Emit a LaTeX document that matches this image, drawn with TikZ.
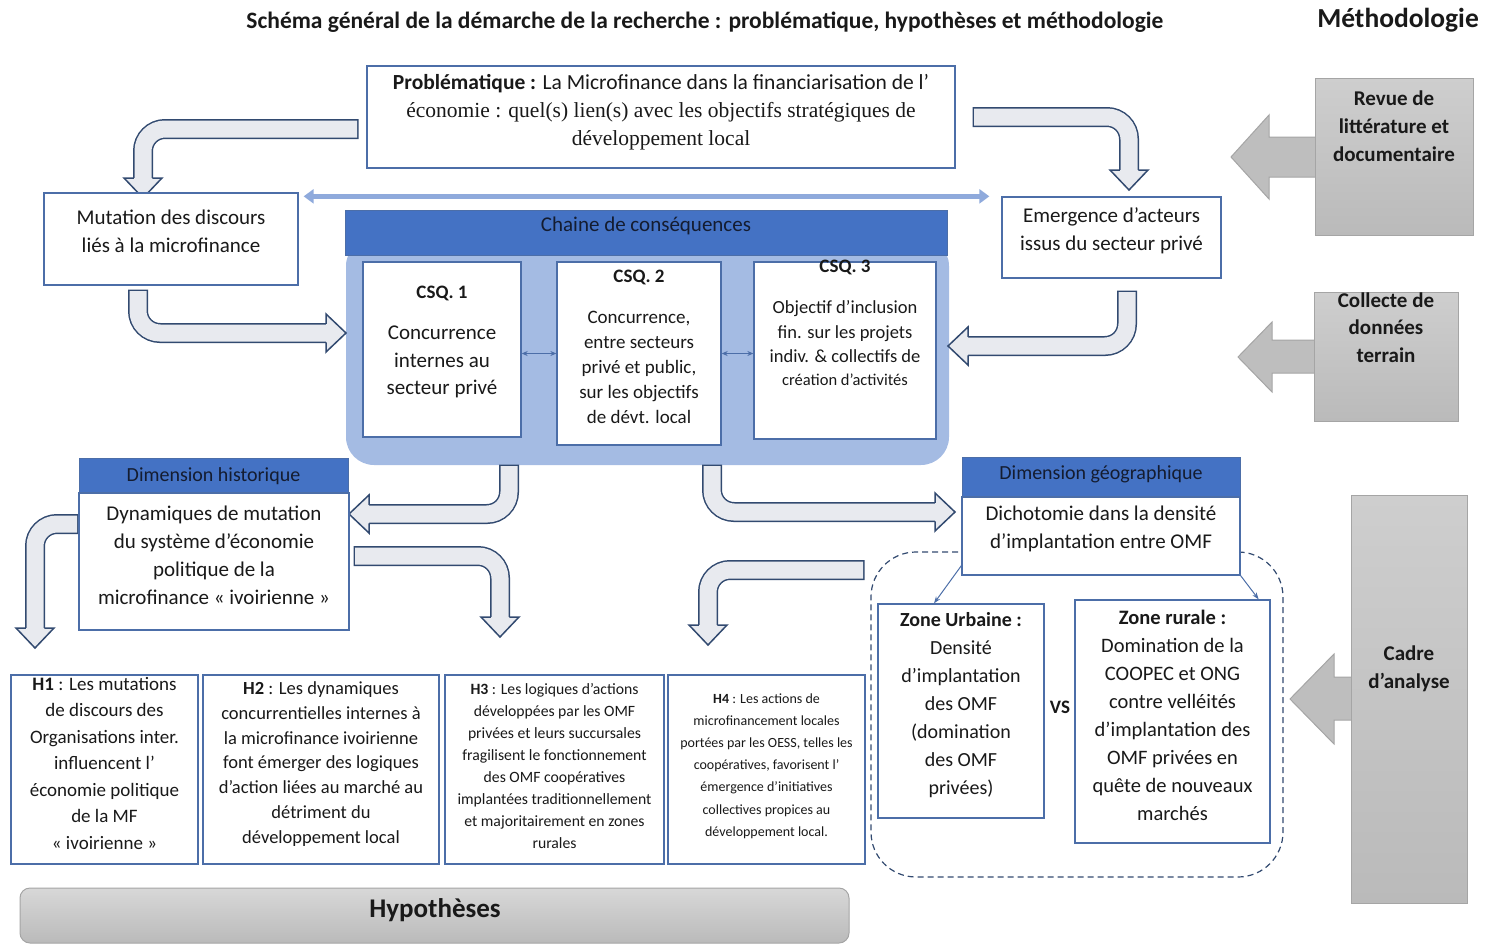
\documentclass[tikz,border=0pt]{standalone}
\usepackage{fontspec}
\setmainfont{Carlito}
\newfontfamily\timesfont{Liberation Serif}
\usetikzlibrary{arrows.meta,calc}

\definecolor{headblue}{RGB}{68,114,196}
\definecolor{bordblue}{RGB}{76,110,168}
\definecolor{chainfill}{RGB}{164,187,227}
\definecolor{arrowfill}{RGB}{232,234,239}
\definecolor{arrowline}{RGB}{50,74,112}
\definecolor{dblblue}{RGB}{143,170,220}
\definecolor{grayfill}{RGB}{190,190,190}
\definecolor{grayline}{RGB}{165,165,165}
\definecolor{graytop}{RGB}{206,206,206}
\definecolor{graybot}{RGB}{186,186,186}
\definecolor{textcol}{RGB}{25,25,25}
\definecolor{headtext}{RGB}{20,28,48}

\newcommand{\fs}[2]{\fontsize{#1}{#2}\selectfont}
\newcommand{\arrowhead}[2]{\filldraw[blockarrow,shift={(#1)},rotate=#2] (0,-9.25) -- (0,-19) -- (20,0) -- (0,19) -- (0,9.25);}
\newcommand{\bentarrow}[5]{%
  \draw[line width=20pt, draw=arrowline, rounded corners=22pt] (#1) -- (#3) -- (#4);
  \draw[line width=17pt, draw=arrowfill, rounded corners=22pt] (#2) -- (#3) -- (#4);
  \arrowhead{#4}{#5}}

\tikzset{
  txt/.style={align=center, inner sep=0pt, text=textcol, font=\fs{21}{28}},
  box/.style={draw=bordblue, line width=1.3pt, fill=white, inner sep=0pt},
  headbox/.style={draw=bordblue, line width=1pt, fill=headblue, inner sep=0pt},
  chainbox/.style={fill=chainfill, rounded corners=28pt, inner sep=0pt},
  zonebox/.style={draw=arrowline, line width=1.2pt, dash pattern=on 6pt off 4pt, rounded corners=45pt, inner sep=0pt},
  graybox/.style={draw=grayline, line width=1pt, top color=graytop, bottom color=graybot, inner sep=0pt},
  grayarrow/.style={draw=grayline, line width=1pt, fill=grayfill},
  hypbar/.style={draw=grayline, line width=1pt, top color=graytop!80!white, bottom color=graybot, rounded corners=10pt, inner sep=0pt},
  blockarrow/.style={draw=arrowline, fill=arrowfill, line width=1.5pt, line join=miter},
  thinarr/.style={draw=bordblue, line width=1pt, -{Stealth[length=7pt,width=5pt]}},
  smallarr/.style={draw=bordblue, line width=1.1pt, {Stealth[length=6pt,width=5pt]}-{Stealth[length=6pt,width=5pt]}},
  dblarr/.style={draw=dblblue, line width=5pt, {Triangle[width=14pt,length=10pt]}-{Triangle[width=14pt,length=10pt]}}
}

\begin{document}
\begin{tikzpicture}[x=1pt,y=-1pt]
\useasboundingbox (0,0) rectangle (1486,945);

%%%%% titres
\node[txt, font=\fs{23.5}{28}\bfseries] (titre) at (705,22) {Schéma général de la démarche de la recherche : problématique, hypothèses et méthodologie};
\node[txt, font=\fs{27.5}{32}\bfseries] (metho) at (1398,20) {Méthodologie};

%%%%% chaine de consequences
\node[chainbox, minimum width=603pt, minimum height=227pt] (chain) at (647.5,351.5) {};
\node[headbox, minimum width=602pt, minimum height=45pt] (chainhd) at (646,232.5) {};
\node[txt, text=headtext] (chainhd-t) at (646,226) {Chaine de conséquences};

\node[box, minimum width=158pt, minimum height=175pt] (csq1) at (442,349.5) {};
\node[box, minimum width=164pt, minimum height=183pt] (csq2) at (639,353.5) {};
\node[box, minimum width=182pt, minimum height=177pt] (csq3) at (845,350.5) {};
\node[txt, font=\fs{21}{27.5}] (csq1-t) at (442,342) {{\fs{19}{27.5}\bfseries CSQ. 1}\\[14pt]Concurrence\\internes au\\secteur privé};
\node[txt, font=\fs{19}{25}] (csq2-t) at (639,347) {{\bfseries CSQ. 2}\\[16pt]Concurrence,\\entre secteurs\\privé et public,\\sur les objectifs\\de dévt. local};
\node[txt, font=\fs{18.5}{24.5}] (csq3-t) at (845,323) {{\fs{19}{24.5}\bfseries CSQ. 3}\\[16.5pt]Objectif d’inclusion\\fin. sur les projets\\indiv. \& collectifs de\\[-1.5pt]{\fs{16.5}{23}création d’activités}};
\draw[smallarr] (csq2.west -| csq1.east) -- (csq2.west);
\draw[smallarr] (csq2.east) -- (csq2.east -| csq3.west);

%%%%% fleches courbes
\bentarrow{358.5,129}{357,129}{143,129}{143,178}{-90}
\bentarrow{138,289.5}{138,291}{138,333}{326,333}{0}
\bentarrow{972.5,117}{974,117}{1129,117}{1129,170}{-90}
\bentarrow{1127,290.5}{1127,292}{1127,346}{968,346}{180}
\bentarrow{509,464.5}{509,466}{509,514}{369,514}{180}
\bentarrow{78.5,524}{77,524}{35,524}{35,628}{-90}
\bentarrow{353.5,556}{355,556}{500,556}{500,617}{-90}
\bentarrow{712,464.5}{712,466}{712,512}{935,512}{0}
\bentarrow{864.5,570}{863,570}{708,570}{708,625}{-90}

%%%%% problematique et discours
\node[box, minimum width=588pt, minimum height=102pt] (prob) at (661,117) {};
\node[txt, font=\fs{21.5}{28}] (prob-t) at (661,112) {\textbf{Problématique :} La Microfinance dans la financiarisation de l’\\{\timesfont\fs{21.5}{28}économie : quel(s) lien(s) avec les objectifs stratégiques de}\\{\timesfont\fs{21.5}{28}développement local}};

\node[box, minimum width=254pt, minimum height=92pt] (mut) at (171,239) {};
\node[txt] (mut-t) at (171,231) {Mutation des discours\\liés à la microfinance};
\node[box, minimum width=219pt, minimum height=81pt] (emer) at (1111.5,237.5) {};
\node[txt] (emer-t) at (1111.5,231) {Emergence d’acteurs\\issus du secteur privé};
\draw[dblarr] ([xshift=5pt,yshift=-4pt]mut.north east) -- ([xshift=-12pt]emer.north west);

%%%%% dimension historique
\node[headbox, minimum width=269pt, minimum height=35pt] (histhd) at (213.5,475.5) {};
\node[txt, font=\fs{20}{26}, text=headtext] (histhd-t) at (213.5,476) {Dimension historique};
\node[box, minimum width=270pt, minimum height=137pt] (hist) at (214,561.5) {};
\node[txt] (hist-t) at (214,555) {Dynamiques de mutation\\du système d’économie\\politique de la\\microfinance «~ivoirienne~»};

%%%%% dimension geographique
\node[zonebox, minimum width=412pt, minimum height=325pt] (zones) at (1077,714.5) {};
\node[headbox, minimum width=278pt, minimum height=40pt] (geohd) at (1101,477) {};
\node[txt, font=\fs{20}{26}, text=headtext] (geohd-t) at (1101,474) {Dimension géographique};
\node[box, minimum width=278pt, minimum height=78pt] (geo) at (1101,536) {};
\node[txt] (geo-t) at (1101,529) {Dichotomie dans la densité\\d’implantation entre OMF};

\node[box, minimum width=166pt, minimum height=214pt] (urb) at (961,711) {};
\node[txt, font=\fs{20}{28}] (urb-t) at (961,705) {\textbf{Zone Urbaine :}\\Densité\\d’implantation\\des OMF\\(domination\\des OMF\\privées)};
\node[txt, font=\fs{19}{24}\bfseries] (vs) at (1060,707) {VS};
\node[box, minimum width=195pt, minimum height=243pt] (rur) at (1172.5,721.5) {};
\node[txt, font=\fs{20.5}{28}] (rur-t) at (1172.5,715) {\textbf{Zone rurale :}\\Domination de la\\COOPEC et ONG\\contre velléités\\d’implantation des\\OMF privées en\\quête de nouveaux\\marchés};
\draw[thinarr] ([yshift=10pt]geo.south west) -- ([xshift=-27pt]urb.north);
\draw[thinarr] (geo.south east) -- ([xshift=-12pt]rur.north east);

%%%%% hypotheses
\node[box, minimum width=187pt, minimum height=189pt] (h1) at (104.5,769.5) {};
\node[box, minimum width=236pt, minimum height=189pt] (h2) at (321,769.5) {};
\node[box, minimum width=219pt, minimum height=189pt] (h3) at (554.5,769.5) {};
\node[box, minimum width=197pt, minimum height=189pt] (h4) at (766.5,769.5) {};
\node[txt, font=\fs{19}{26.5}] (h1-t) at (104.5,763) {\textbf{H1} : Les mutations\\de discours des\\Organisations inter.\\influencent l’\\économie politique\\de la MF\\«~ivoirienne~»};
\node[txt, font=\fs{18.5}{24.8}] (h2-t) at (321,764) {\textbf{H2} : Les dynamiques\\concurrentielles internes à\\la microfinance ivoirienne\\font émerger des logiques\\d’action liées au marché au\\détriment du\\développement local};
\node[txt, font=\fs{15.7}{22}] (h3-t) at (554.5,766) {\textbf{H3} : Les logiques d’actions\\développées par les OMF\\privées et leurs succursales\\fragilisent le fonctionnement\\des OMF coopératives\\implantées traditionnellement\\et majoritairement en zones\\rurales};
\node[txt, font=\fs{14}{22.2}] (h4-t) at (766.5,766) {\textbf{H4} : Les actions de\\microfinancement locales\\portées par les OESS, telles les\\coopératives, favorisent l’\\émergence d’initiatives\\collectives propices au\\développement local.};

\node[hypbar, minimum width=829pt, minimum height=55pt] (hyp) at (434.5,915.5) {};
\node[txt, font=\fs{27}{32}\bfseries] (hyp-t) at (435,910) {Hypothèses};

%%%%% methodologie
\filldraw[grayarrow] (1316,137) -- (1269,137) -- (1269,115) -- (1231,157) -- (1269,199) -- (1269,177) -- (1316,177) -- cycle;
\node[graybox, minimum width=158pt, minimum height=157pt] (revue) at (1394,156.5) {};
\node[txt, font=\fs{21}{28}\bfseries] (revue-t) at (1394,126) {Revue de\\littérature et\\documentaire};

\filldraw[grayarrow] (1315,340) -- (1272,340) -- (1272,322) -- (1238,357) -- (1272,392) -- (1272,373) -- (1315,373) -- cycle;
\node[graybox, minimum width=144pt, minimum height=129pt] (collecte) at (1386,356.5) {};
\node[txt, font=\fs{21}{27.5}\bfseries] (collecte-t) at (1386,327.5) {Collecte de\\données\\terrain};

\filldraw[grayarrow] (1352,677) -- (1334,677) -- (1334,654) -- (1290,699) -- (1334,744) -- (1334,720) -- (1352,720) -- cycle;
\node[graybox, minimum width=116pt, minimum height=408pt] (cadre) at (1409,699) {};
\node[txt, font=\fs{21}{28}\bfseries] (cadre-t) at (1409,669) {Cadre\\d’analyse};

\end{tikzpicture}
\end{document}
